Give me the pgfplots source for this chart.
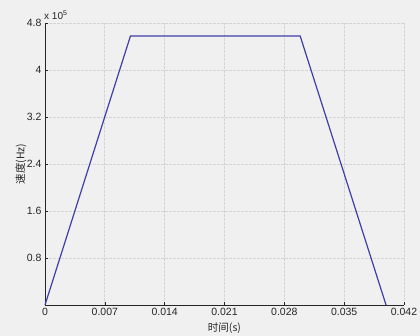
\documentclass[border=0pt]{standalone}
\usepackage{pgfplots}
\pgfplotsset{compat=1.18}
\usepackage{fontspec}
\setmainfont{Liberation Sans}
\newfontfamily\cjk{Noto Sans CJK SC}
\definecolor{bg}{RGB}{240,240,240}
\definecolor{gridc}{RGB}{212,212,212}
\definecolor{linec}{RGB}{62,62,168}
\definecolor{txt}{RGB}{38,38,38}
\begin{document}
\begin{tikzpicture}
\fill[bg] (0,0) rectangle (420pt,336pt);
\useasboundingbox (0,0) rectangle (420pt,336pt);
\begin{axis}[
  at={(45pt,31pt)}, anchor=origin,
  scale only axis, width=359pt, height=282pt,
  xmin=0, xmax=0.042, ymin=0, ymax=480000,
  axis x line=bottom, axis y line=left,
  axis line style={-, txt, line width=0.6pt},
  xtick={0,0.007,0.014,0.021,0.028,0.035,0.042},
  xticklabels={0,0.007,0.014,0.021,0.028,0.035,0.042},
  ytick={80000,160000,240000,320000,400000,480000},
  yticklabels={0.8,1.6,2.4,3.2,4,4.8},
  scaled x ticks=false, scaled y ticks=false,
  tick align=inside, major tick length=3pt,
  tick style={txt, line width=0.6pt},
  grid=major,
  major grid style={gridc, dash pattern=on 3pt off 1pt, line width=0.7pt},
  ticklabel style={font=\fontsize{10.5}{12}\selectfont, text=txt},
  xlabel={\cjk 时间(s)},
  ylabel={\cjk 速度(Hz)},
  xlabel style={at={(rel axis cs:0.5,0)}, anchor=center, yshift=-23pt, font=\fontsize{10.5}{12}\selectfont, text=txt},
  ylabel style={at={(rel axis cs:0,0.5)}, anchor=center, yshift=24pt, font=\fontsize{10.5}{12}\selectfont, text=txt},
  clip=false,
]
\addplot[linec, line width=1.2pt] coordinates {
  (0,0) (0.01,458000) (0.02985,458000) (0.0399,0)
};
\node[anchor=south west, inner sep=0pt, font=\fontsize{10}{12}\selectfont, text=txt] at (rel axis cs:0,1) [yshift=3.5pt, xshift=-1pt] {x 10\textsuperscript{5}};
\end{axis}
\end{tikzpicture}
\end{document}
